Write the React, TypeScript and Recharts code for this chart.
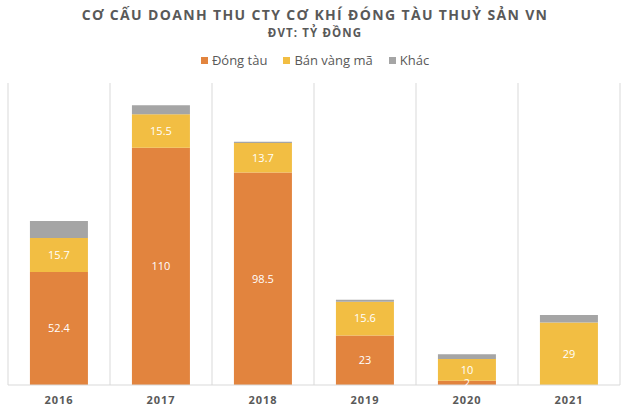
import React from "react";
import { BarChart, Bar, XAxis, YAxis, CartesianGrid, LabelList } from "recharts";

const years = ["2016", "2017", "2018", "2019", "2020", "2021"];
const dongTau = [52.4, 110, 98.5, 23, 2, 0];
const banVangMa = [15.7, 15.5, 13.7, 15.6, 10, 29];
const khac = [7.9, 4.2, 0.6, 0.9, 2.3, 3.4];

const seriesNames = ["Đóng tàu", "Bán vàng mã", "Khác"];
const seriesColors = ["#E2843E", "#F2BE43", "#A5A5A5"];

const data = years.map((y, i) => ({
  year: y,
  dongTau: dongTau[i],
  banVangMa: banVangMa[i],
  khac: khac[i],
}));

const FONT = "'Open Sans', 'Noto Sans', sans-serif";
const TEXT = "#595959";

const labelFmt = (v: any) => (v === 0 || v === null || v === undefined ? "" : String(v));

export default function App() {
  return (
    <div style={{ position: "absolute", left: 0, top: 0, width: 630, height: 411, background: "#fff", fontFamily: FONT }}>
      <div style={{ position: "absolute", top: 5, left: 0, width: 630, textAlign: "center", fontSize: 14, fontWeight: 700, color: TEXT, letterSpacing: 1.35 }}>
        CƠ CẤU DOANH THU CTY CƠ KHÍ ĐÓNG TÀU THUỶ SẢN VN
      </div>
      <div style={{ position: "absolute", top: 25, left: 0, width: 630, textAlign: "center", fontSize: 11.5, fontWeight: 700, color: TEXT, letterSpacing: 1.1 }}>
        ĐVT: TỶ ĐỒNG
      </div>
      <div style={{ position: "absolute", top: 51, left: 0, width: 630, display: "flex", justifyContent: "center", fontSize: 13, color: TEXT }}>
        {seriesNames.map((n, i) => (
          <div key={n} style={{ display: "flex", alignItems: "center", margin: "0 8px" }}>
            <span style={{ display: "inline-block", width: 7, height: 7, background: seriesColors[i], marginRight: 4 }} />
            <span>{n}</span>
          </div>
        ))}
      </div>
      <div style={{ position: "absolute", left: 0, top: 0 }}>
        <BarChart
          width={630}
          height={411}
          data={data}
          margin={{ top: 83, right: 10, bottom: 0, left: 8 }}
          barCategoryGap="21.5%"
        >
          <CartesianGrid
            horizontal={false}
            stroke="#d9d9d9"
            verticalCoordinatesGenerator={({ offset }: any) =>
              years.map((_, i) => offset.left + (i * offset.width) / years.length).concat([offset.left + offset.width])
            }
          />
          <XAxis
            dataKey="year"
            height={26}
            tickLine={false}
            axisLine={{ stroke: "#d9d9d9" }}
            tickMargin={5}
            tick={{ fill: TEXT, fontSize: 11, fontWeight: 700, fontFamily: FONT, letterSpacing: 1 }}
          />
          <YAxis hide domain={[0, 140]} />
          <Bar dataKey="dongTau" name={seriesNames[0]} stackId="a" fill={seriesColors[0]} isAnimationActive={false}>
            <LabelList dataKey="dongTau" position="center" fill="#fff" fontSize={11} fontFamily={FONT} formatter={labelFmt} />
          </Bar>
          <Bar dataKey="banVangMa" name={seriesNames[1]} stackId="a" fill={seriesColors[1]} isAnimationActive={false}>
            <LabelList dataKey="banVangMa" position="center" fill="#fff" fontSize={11} fontFamily={FONT} formatter={labelFmt} />
          </Bar>
          <Bar dataKey="khac" name={seriesNames[2]} stackId="a" fill={seriesColors[2]} isAnimationActive={false} />
        </BarChart>
      </div>
    </div>
  );
}
